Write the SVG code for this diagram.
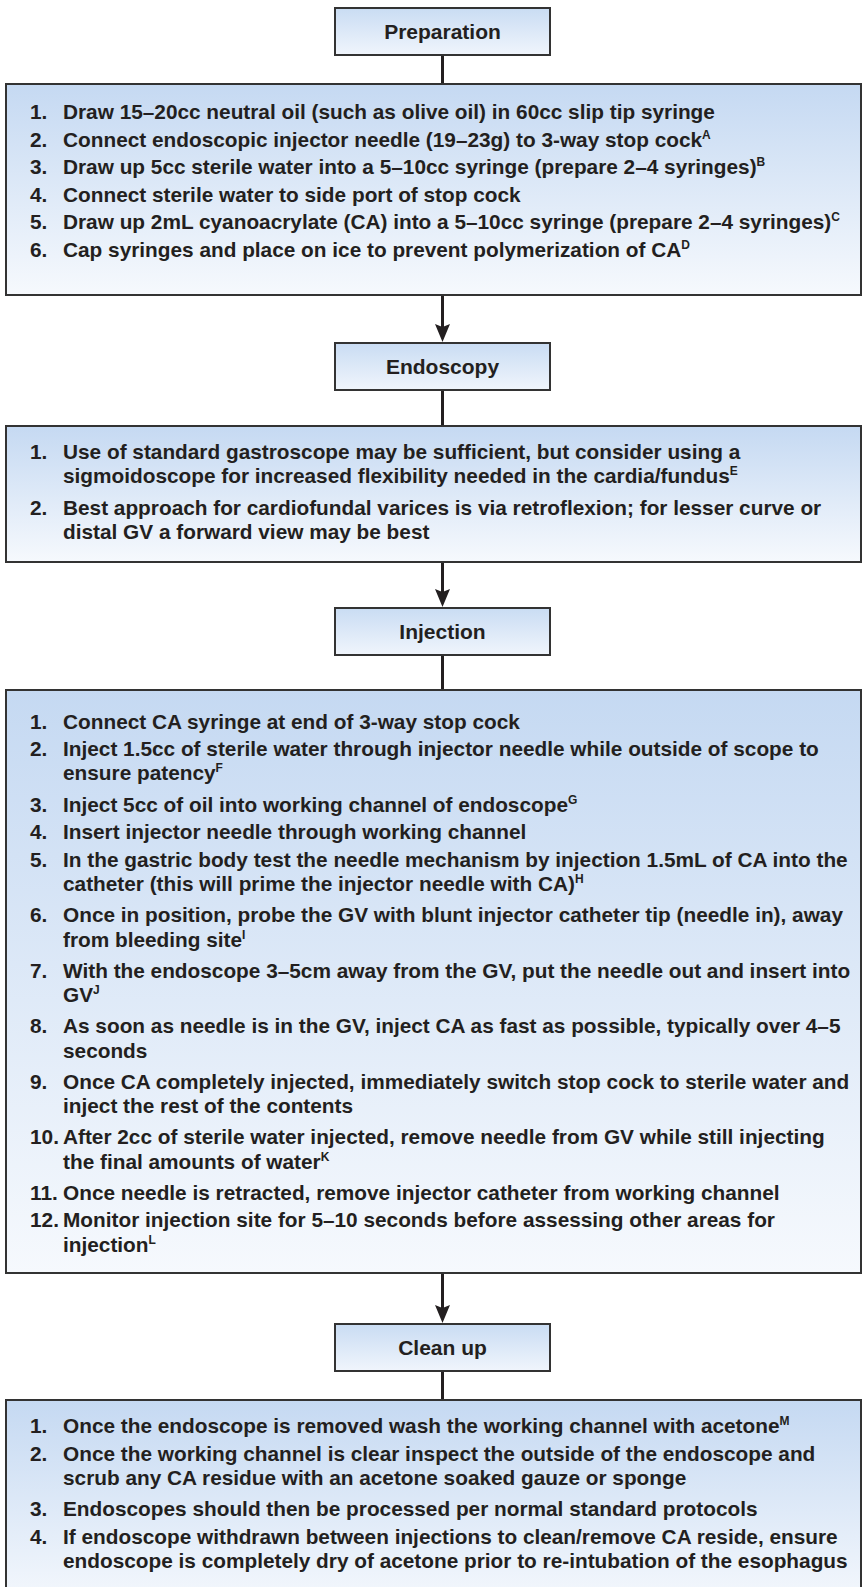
<svg xmlns="http://www.w3.org/2000/svg" width="867" height="1587" viewBox="0 0 867 1587">
<defs>
<linearGradient id="gMain" x1="0" y1="0" x2="0" y2="1">
<stop offset="0" stop-color="#c5d9f2"/>
<stop offset="1" stop-color="#f6f9fd"/>
</linearGradient>
<linearGradient id="gHead" x1="0" y1="0" x2="0" y2="1">
<stop offset="0" stop-color="#c9dcf3"/>
<stop offset="1" stop-color="#f0f5fc"/>
</linearGradient>
<marker id="arr" markerUnits="userSpaceOnUse" markerWidth="20" markerHeight="16" viewBox="0 0 20 16" refX="8" refY="8" orient="auto">
<path d="M0,0.5 L18,8 L0,15.5 L3,8 Z" fill="#231f20"/>
</marker>
<style>
.box{stroke:#333;stroke-width:2;fill:url(#gMain)}
.hbox{stroke:#333;stroke-width:2;fill:url(#gHead)}
.t{font-family:"Liberation Sans",Arial,Helvetica,sans-serif;font-weight:bold;font-size:20.8px;fill:#231f20}
.h{text-anchor:middle;font-size:21px}
.sup{font-size:12px}
.c{stroke:#231f20;stroke-width:3;fill:none}
</style>
</defs>
<rect width="867" height="1587" fill="#ffffff"/>

<g id="connectors">
<line class="c" x1="442.5" y1="55" x2="442.5" y2="84"/>
<line class="c" x1="442.5" y1="295" x2="442.5" y2="332" marker-end="url(#arr)"/>
<line class="c" x1="442.5" y1="390" x2="442.5" y2="426"/>
<line class="c" x1="442.5" y1="562" x2="442.5" y2="597" marker-end="url(#arr)"/>
<line class="c" x1="442.5" y1="655" x2="442.5" y2="690"/>
<line class="c" x1="442.5" y1="1273" x2="442.5" y2="1313" marker-end="url(#arr)"/>
<line class="c" x1="442.5" y1="1371" x2="442.5" y2="1400"/>
</g>

<g id="preparation">
<rect class="hbox" x="335" y="8" width="215" height="47"/>
<text class="t h" x="442.5" y="39">Preparation</text>
</g>

<g id="preparation-steps">
<rect class="box" x="6" y="84" width="855" height="211"/>
<text class="t" y="119"><tspan x="30">1.</tspan><tspan x="63">Draw 15–20cc neutral oil (such as olive oil) in 60cc slip tip syringe</tspan></text>
<text class="t" y="146.5"><tspan x="30">2.</tspan><tspan x="63">Connect endoscopic injector needle (19–23g) to 3-way stop cock</tspan><tspan class="sup" dy="-8">A</tspan></text>
<text class="t" y="174"><tspan x="30">3.</tspan><tspan x="63">Draw up 5cc sterile water into a 5–10cc syringe (prepare 2–4 syringes)</tspan><tspan class="sup" dy="-8">B</tspan></text>
<text class="t" y="201.5"><tspan x="30">4.</tspan><tspan x="63">Connect sterile water to side port of stop cock</tspan></text>
<text class="t" y="229"><tspan x="30">5.</tspan><tspan x="63">Draw up 2mL cyanoacrylate (CA) into a 5–10cc syringe (prepare 2–4 syringes)</tspan><tspan class="sup" dy="-8">C</tspan></text>
<text class="t" y="256.5"><tspan x="30">6.</tspan><tspan x="63">Cap syringes and place on ice to prevent polymerization of CA</tspan><tspan class="sup" dy="-8">D</tspan></text>
</g>

<g id="endoscopy">
<rect class="hbox" x="335" y="343" width="215" height="47"/>
<text class="t h" x="442.5" y="374">Endoscopy</text>
</g>

<g id="endoscopy-steps">
<rect class="box" x="6" y="426" width="855" height="136"/>
<text class="t" y="459"><tspan x="30">1.</tspan><tspan x="63">Use of standard gastroscope may be sufficient, but consider using a</tspan></text>
<text class="t" y="483.3"><tspan x="63">sigmoidoscope for increased flexibility needed in the cardia/fundus</tspan><tspan class="sup" dy="-8">E</tspan></text>
<text class="t" y="514.5"><tspan x="30">2.</tspan><tspan x="63">Best approach for cardiofundal varices is via retroflexion; for lesser curve or</tspan></text>
<text class="t" y="538.8"><tspan x="63">distal GV a forward view may be best</tspan></text>
</g>

<g id="injection">
<rect class="hbox" x="335" y="608" width="215" height="47"/>
<text class="t h" x="442.5" y="639">Injection</text>
</g>

<g id="injection-steps">
<rect class="box" x="6" y="690" width="855" height="583"/>
<text class="t" y="728.5"><tspan x="30">1.</tspan><tspan x="63">Connect CA syringe at end of 3-way stop cock</tspan></text>
<text class="t" y="756.1"><tspan x="30">2.</tspan><tspan x="63">Inject 1.5cc of sterile water through injector needle while outside of scope to</tspan></text>
<text class="t" y="780.4"><tspan x="63">ensure patency</tspan><tspan class="sup" dy="-8">F</tspan></text>
<text class="t" y="811.6"><tspan x="30">3.</tspan><tspan x="63">Inject 5cc of oil into working channel of endoscope</tspan><tspan class="sup" dy="-8">G</tspan></text>
<text class="t" y="839.2"><tspan x="30">4.</tspan><tspan x="63">Insert injector needle through working channel</tspan></text>
<text class="t" y="866.8"><tspan x="30">5.</tspan><tspan x="63">In the gastric body test the needle mechanism by injection 1.5mL of CA into the</tspan></text>
<text class="t" y="891.1"><tspan x="63">catheter (this will prime the injector needle with CA)</tspan><tspan class="sup" dy="-8">H</tspan></text>
<text class="t" y="922.3"><tspan x="30">6.</tspan><tspan x="63">Once in position, probe the GV with blunt injector catheter tip (needle in), away</tspan></text>
<text class="t" y="946.6"><tspan x="63">from bleeding site</tspan><tspan class="sup" dy="-8">I</tspan></text>
<text class="t" y="977.8"><tspan x="30">7.</tspan><tspan x="63">With the endoscope 3–5cm away from the GV, put the needle out and insert into</tspan></text>
<text class="t" y="1002.1"><tspan x="63">GV</tspan><tspan class="sup" dy="-8">J</tspan></text>
<text class="t" y="1033.3"><tspan x="30">8.</tspan><tspan x="63">As soon as needle is in the GV, inject CA as fast as possible, typically over 4–5</tspan></text>
<text class="t" y="1057.6"><tspan x="63">seconds</tspan></text>
<text class="t" y="1088.8"><tspan x="30">9.</tspan><tspan x="63">Once CA completely injected, immediately switch stop cock to sterile water and</tspan></text>
<text class="t" y="1113.1"><tspan x="63">inject the rest of the contents</tspan></text>
<text class="t" y="1144.3"><tspan x="30">10.</tspan><tspan x="63">After 2cc of sterile water injected, remove needle from GV while still injecting</tspan></text>
<text class="t" y="1168.6"><tspan x="63">the final amounts of water</tspan><tspan class="sup" dy="-8">K</tspan></text>
<text class="t" y="1199.8"><tspan x="30">11.</tspan><tspan x="63">Once needle is retracted, remove injector catheter from working channel</tspan></text>
<text class="t" y="1227.4"><tspan x="30">12.</tspan><tspan x="63">Monitor injection site for 5–10 seconds before assessing other areas for</tspan></text>
<text class="t" y="1251.7"><tspan x="63">injection</tspan><tspan class="sup" dy="-8">L</tspan></text>
</g>

<g id="clean-up">
<rect class="hbox" x="335" y="1324" width="215" height="47"/>
<text class="t h" x="442.5" y="1355">Clean up</text>
</g>

<g id="clean-up-steps">
<rect class="box" x="6" y="1400" width="855" height="210"/>
<text class="t" y="1433"><tspan x="30">1.</tspan><tspan x="63">Once the endoscope is removed wash the working channel with acetone</tspan><tspan class="sup" dy="-8">M</tspan></text>
<text class="t" y="1460.6"><tspan x="30">2.</tspan><tspan x="63">Once the working channel is clear inspect the outside of the endoscope and</tspan></text>
<text class="t" y="1484.9"><tspan x="63">scrub any CA residue with an acetone soaked gauze or sponge</tspan></text>
<text class="t" y="1516.1"><tspan x="30">3.</tspan><tspan x="63">Endoscopes should then be processed per normal standard protocols</tspan></text>
<text class="t" y="1543.7"><tspan x="30">4.</tspan><tspan x="63">If endoscope withdrawn between injections to clean/remove CA reside, ensure</tspan></text>
<text class="t" y="1568"><tspan x="63">endoscope is completely dry of acetone prior to re-intubation of the esophagus</tspan></text>
</g>
</svg>
